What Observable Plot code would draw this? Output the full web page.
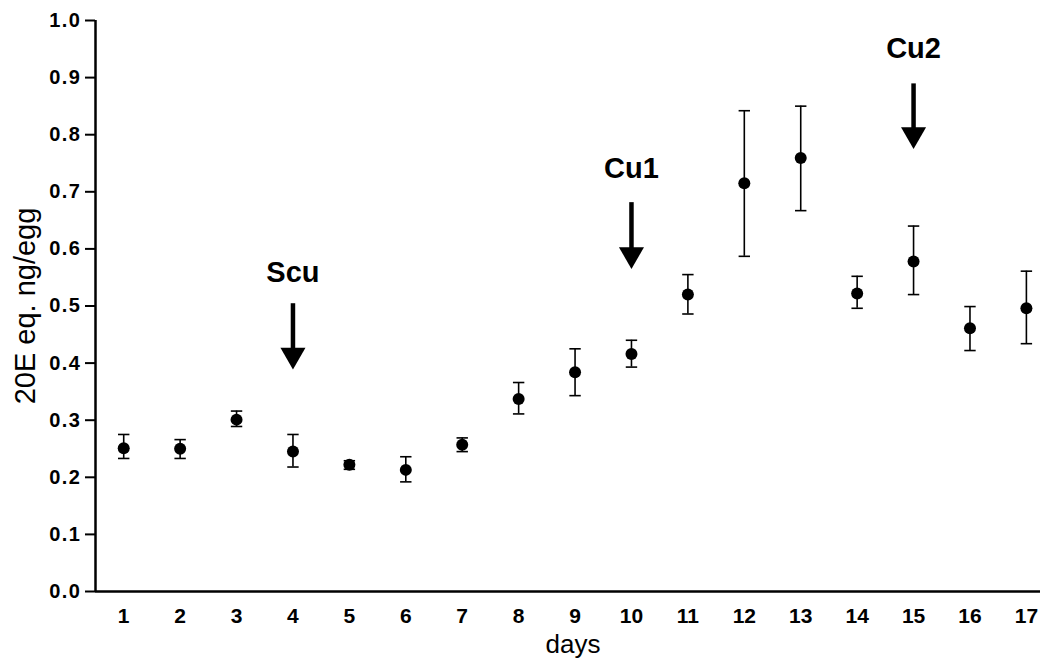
<!DOCTYPE html>
<html><head><meta charset="utf-8">
<script src="https://cdn.jsdelivr.net/npm/d3@7"></script>
<script src="https://cdn.jsdelivr.net/npm/@observablehq/plot@0.6"></script>
<style>
body{margin:0;background:#fff;}
#chart svg{display:block;}
#chart g[aria-label="y-axis tick label"]{font-size:20px;font-weight:bold;}
#chart g[aria-label="y-axis tick label"] text{letter-spacing:1.5px;}
#chart g[aria-label="x-axis tick label"]{font-size:21px;font-weight:bold;}
</style></head><body><div id="chart"></div>
<script>
// Data
const days  = [1, 2, 3, 4, 5, 6, 7, 8, 9, 10, 11, 12, 13, 14, 15, 16, 17];
const means = [0.251, 0.250, 0.301, 0.245, 0.222, 0.213, 0.257, 0.337, 0.384, 0.416, 0.520, 0.715, 0.759, 0.522, 0.578, 0.461, 0.496];
const upper = [0.275, 0.266, 0.316, 0.275, 0.229, 0.236, 0.269, 0.366, 0.425, 0.440, 0.555, 0.842, 0.850, 0.552, 0.640, 0.499, 0.561];
const lower = [0.233, 0.233, 0.289, 0.218, 0.214, 0.192, 0.245, 0.311, 0.343, 0.393, 0.486, 0.587, 0.667, 0.496, 0.520, 0.422, 0.434];
const yTicks = [0.0, 0.1, 0.2, 0.3, 0.4, 0.5, 0.6, 0.7, 0.8, 0.9, 1.0];

// Arrow annotations
const arrowDays   = [4, 10, 15];
const arrowLabels = ["Scu", "Cu1", "Cu2"];
const arrowTop    = [0.504, 0.681, 0.889];
const arrowTip    = [0.389, 0.565, 0.775];
const labelY      = [0.559, 0.741, 0.950];

const xLabel = "days";
const yLabel = "20E eq. ng/egg";

const data = days.map((d, i) => ({day: d, mean: means[i], lo: lower[i], hi: upper[i]}));
const arrows = arrowDays.map((d, i) => ({day: d, label: arrowLabels[i], top: arrowTop[i], tip: arrowTip[i], ly: labelY[i]}));

// horizontal cap symbol for error bars
const cap = {draw(ctx, size) { const w = Math.sqrt(size / Math.PI); ctx.moveTo(-w, 0); ctx.lineTo(w, 0); }};

const font = "'Liberation Sans', Arial, Helvetica, sans-serif";

const chart = Plot.plot({
  width: 1040,
  height: 662,
  marginLeft: 95,
  marginRight: 0,
  marginTop: 20,
  marginBottom: 71,
  style: {fontFamily: font, color: "black", background: "white"},
  x: {domain: [0.5, 17.25]},
  y: {domain: [0, 1]},
  marks: [
    Plot.axisY(yTicks, {tickFormat: d3.format(".1f"), tickSize: 10, tickPadding: 4, fontSize: 20, fontWeight: "bold", strokeWidth: 2, label: null}),
    Plot.axisX(days, {tickSize: 0, tickPadding: 17, fontSize: 21, fontWeight: "bold", label: null}),
    Plot.ruleX([0.5], {stroke: "black", strokeWidth: 2.5}),
    Plot.ruleY([0], {stroke: "black", strokeWidth: 2.5}),
    Plot.text([yLabel], {frameAnchor: "left", textAnchor: "middle", rotate: -90, dx: -70, fontSize: 29, fill: "black"}),
    Plot.text([xLabel], {frameAnchor: "bottom", textAnchor: "middle", lineAnchor: "middle", dy: 53, dx: 5, fontSize: 26, fill: "black"}),
    // error bars
    Plot.ruleX(data, {x: "day", y1: "lo", y2: "hi", stroke: "black", strokeWidth: 1.6}),
    Plot.dot(data, {x: "day", y: "hi", symbol: cap, r: 5.7, stroke: "black", strokeWidth: 1.6}),
    Plot.dot(data, {x: "day", y: "lo", symbol: cap, r: 5.7, stroke: "black", strokeWidth: 1.6}),
    Plot.dot(data, {x: "day", y: "mean", r: 6, fill: "black", stroke: "none"}),
    // arrows
    Plot.ruleX(arrows, {x: "day", y1: "top", y2: "tip", stroke: "black", strokeWidth: 4.5, insetBottom: 14}),
    Plot.dot(arrows, {x: "day", y: "tip", symbol: "triangle", r: 9.3, rotate: 180, fill: "black", stroke: "none", dy: -14.4}),
    Plot.text(arrows, {x: "day", y: "ly", text: "label", fontSize: 29, fontWeight: "bold", fill: "black"})
  ]
});
document.getElementById("chart").appendChild(chart);
</script>
</body></html>
